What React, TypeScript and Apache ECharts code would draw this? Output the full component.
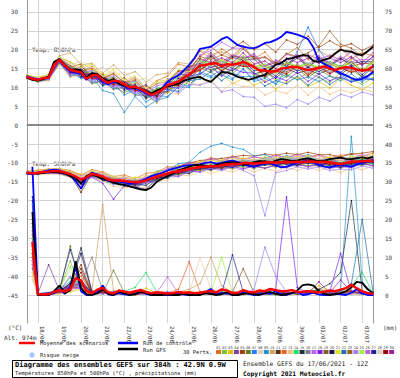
import React, { useEffect, useRef } from 'react';
import * as echarts from 'echarts';

const DATE_LABELS = ['18/06','19/06','20/06','21/06','22/06','23/06','24/06','25/06','26/06','27/06','28/06','29/06','30/06','01/07','02/07','03/07'];
const DAY_HOURS = [12,36,60,84,108,132,156,180,204,228,252,276,300,324,348,372];
const LABEL_HOURS = [17,41,65,89,113,137,161,185,209,233,257,281,305,329,353,377];
const LEFT_TICKS = [-45,-40,-35,-30,-25,-20,-15,-10,-5,0,5,10,15,20,25,30];
const RIGHT_TICKS = [0,5,10,15,20,25,30,35,40,45,50,55,60,65,70,75];
const MEMBER_COLORS = ['#e07020','#80c040','#e0c000','#8040a0','#a04010','#608020','#2080ff','#e0d0b0','#2090d0','#d0a060','#603010','#f06020','#f0c080','#20e060','#203040','#808090','#c060ff','#8020ff','#806020','#201060','#e0e020','#2070b0','#a06020','#a080ff','#a0f040','#c060e0','#2020a0','#e0d0b0','#a00000','#a020a0'];

// 6-hourly, h=0..384
const MEAN_850 = [12.8, 12.3,12.0,12.5,12.6, 16.0,17.3,15.8,14.6, 14.3,14.0,12.3,13.2, 13.3,12.0,11.2,11.8, 11.6,10.8,10.0,10.2, 9.6,8.8,8.0,8.6, 9.4,10.6,11.0,11.6, 12.6,13.4,14.6,15.8, 16.0,16.3,16.5,15.6, 16.2,16.0,16.3,16.8, 16.2,15.4,14.5,14.5, 14.2,14.3,15.0,15.2, 15.5,15.4,15.0,14.6, 14.9,15.2,15.6,15.0, 14.6,15.1,15.4,15.2, 14.8,14.4,14.7,15.6];
const CONTROL_850 = [13.0, 12.5,12.2,12.4,12.8, 16.5,17.0,15.5,14.2, 14.0,13.5,12.0,13.5, 13.0,11.5,10.8,11.5, 11.2,10.3,9.6,10.0, 9.2,8.5,7.8,8.8, 9.8,11.5,12.5,13.2, 14.5,16.0,17.8,20.2, 20.5,20.8,21.8,22.8, 23.4,22.3,21.2,20.8, 20.5,20.4,21.0,21.8, 22.0,22.6,23.4,24.7, 24.4,24.0,23.5,22.8, 20.5,17.0,16.2,15.5, 14.5,13.8,13.2,12.5, 12.0,12.3,13.0,14.1];
const GFS_850 = [12.6, 12.0,11.8,12.2,12.9, 16.8,17.5,16.0,14.8, 14.8,14.5,12.6,13.8, 13.6,12.4,11.6,12.2, 11.0,10.5,10.2,9.8, 9.8,9.0,8.4,9.2, 9.8,10.2,10.6,11.0, 11.8,12.2,12.6,12.8, 12.0,11.5,12.8,14.1, 14.0,13.5,12.8,12.4, 12.0,12.5,13.0,13.3, 14.8,16.0,16.5,17.5, 17.8,18.2,18.6,18.4, 17.0,16.8,17.4,17.8, 19.0,20.0,19.6,19.5, 18.8,18.6,19.6,20.8];
const MEAN_500 = [-12.6, -12.8,-12.6,-12.4,-12.3, -12.1,-12.2,-12.5,-13.0, -13.6,-14.4,-13.8,-12.9, -13.2,-13.6,-14.4,-14.7, -14.6,-14.8,-15.0,-15.1, -15.0,-14.6,-14.1,-13.6, -13.2,-12.8,-12.4,-12.2, -11.9,-11.6,-11.3,-11.0, -11.0,-10.8,-10.9,-10.6, -10.4,-10.3,-10.3,-10.1, -10.0,-10.2,-10.1,-9.9, -9.8,-9.9,-9.8,-9.7, -9.8,-9.7,-9.8,-9.6, -9.7,-9.8,-9.7,-9.9, -10.1,-10.3,-10.0,-9.7, -9.6,-9.6,-9.5,-9.4];
const CONTROL_500 = [-12.8, -13.0,-12.5,-12.3,-12.0, -11.8,-12.0,-12.6,-13.3, -14.8,-16.8,-14.0,-12.6, -13.0,-13.8,-14.8,-15.0, -14.8,-15.2,-15.5,-15.4, -14.8,-14.2,-13.5,-13.0, -12.6,-12.0,-11.6,-11.2, -10.8,-10.6,-10.5,-10.4, -10.0,-9.8,-10.2,-10.0, -9.6,-9.4,-9.8,-10.4, -10.8,-11.0,-10.6,-10.2, -10.0,-10.6,-11.2,-11.0, -10.4,-10.0,-9.6,-9.4, -9.8,-10.5,-11.0,-11.2, -10.8,-10.5,-10.8,-11.0, -10.4,-9.9,-9.6,-9.2];
const GFS_500 = [-12.5, -12.7,-12.8,-12.6,-12.4, -12.3,-12.5,-12.8,-13.5, -14.0,-15.5,-13.5,-13.0, -13.6,-14.2,-14.6,-15.2, -15.6,-15.8,-16.2,-16.6, -17.0,-17.2,-16.5,-15.0, -14.2,-13.5,-12.8,-12.0, -11.5,-11.0,-10.6,-10.5, -10.8,-11.0,-10.6,-10.2, -10.0,-9.8,-10.0,-10.5, -10.2,-9.8,-9.5,-9.6, -9.9,-9.4,-9.0,-9.2, -9.5,-9.3,-9.0,-8.8, -9.2,-9.6,-9.4,-9.0, -8.8,-8.6,-8.9,-9.0, -8.7,-8.5,-8.8,-8.4];
// 6-hourly precipitation (mm), h=6..384
const MEAN_PRECIP = [14,0.3,0.1,0.2, 0.8,1.3,0.9,1.5, 4.5,3.8,1.0,0.5, 1.4,1.9,0.7,0.4, 1.2,0.9,0.6,1.0, 1.3,0.8,0.5,0.7, 0.6,0.4,0.5,0.8, 0.6,0.7,0.5,0.6, 0.9,1.1,0.7,1.5, 1.2,0.5,0.6,1.3, 0.8,0.7,1.2,1.0, 1.6,1.3,1.0,1.1, 1.3,0.8,0.9,1.1, 0.8,0.7,0.9,1.2, 1.0,1.4,1.8,2.7, 1.8,1.0,0.5,0.3];
const CONTROL_PRECIP = [34,0.2,0,0, 0.5,1.5,0.3,2.0, 7.5,1.0,0,0, 0.8,2.5,0.2,0, 0.5,0.2,0,0.4, 1.5,0.3,0,0, 0.2,0,0,0.5, 0.1,0,0,0.3, 0.8,1.6,0.2,0.5, 0.4,0,0,0.8, 0.3,0,0.2,0.5, 0.3,1.0,0.2,0, 0.5,0.8,0,0.2, 0.6,0.1,0,0, 0.4,0.2,0,0.6, 1.5,0.4,0,0];
const GFS_PRECIP = [22,0.1,0,0, 1.0,2.5,0.5,1.2, 9.0,1.8,0.2,0, 0.4,1.5,0.3,0, 1.0,0.4,0,0.2, 0.8,0.5,0,0, 0,0.2,0,0, 0.3,0,0,0, 0.5,0.3,0,0.2, 0.8,0,0,0.3, 0.5,0.2,0,0.4, 0.8,0.3,0,0.2, 0.5,1.2,2.6,2.8, 2.5,1.0,0.3,0, 0.2,0.5,1.0,2.0, 3.5,3.2,1.5,0.5];

// 12-hourly members, h=0..384
const T850_MEMBERS = [
  [13.3,12.5,13.2,17.9,16.8,14.2,15.6,12.4,13.8,11.2,12.6,9.4,11.8,13.0,16.2,15.4,19.6,17.8,20.2,18.4,21.0,17.6,19.4,16.2,18.8,20.6,17.4,19.8,18.0,20.4,17.6,19.2,18.4],
  [12.4,11.6,12.0,16.6,13.0,15.2,11.4,12.8,9.6,11.4,8.0,9.6,6.8,9.4,10.2,12.6,13.4,15.8,13.2,14.8,16.2,13.0,14.6,11.8,13.6,12.2,14.0,12.6,11.4,13.8,12.2,10.8,12.6],
  [12.9,12.3,12.9,16.8,15.6,13.2,14.8,13.6,12.6,9.8,11.6,8.2,9.4,8.6,10.8,11.0,12.6,11.4,13.8,11.0,12.4,10.6,11.8,9.6,11.4,12.8,10.2,11.6,9.8,12.4,10.6,9.4,11.2],
  [12.6,11.8,12.3,17.6,14.0,12.6,13.8,11.0,12.4,10.2,9.4,10.8,8.0,12.2,12.6,15.6,16.4,19.2,16.8,18.6,17.4,19.0,15.6,17.2,16.0,18.4,15.2,17.8,16.6,15.4,17.8,16.0,18.2],
  [13.1,12.1,12.7,17.5,15.4,16.2,12.6,13.4,11.0,12.6,9.8,10.4,8.8,11.0,14.2,15.0,18.0,20.8,18.6,20.4,22.2,20.0,21.6,19.4,22.6,21.4,23.6,20.6,22.4,20.8,21.6,19.8,21.2],
  [12.5,11.5,12.1,16.4,13.4,13.8,11.0,11.8,10.2,8.6,9.8,7.0,8.4,8.6,11.2,11.6,15.2,14.0,15.8,13.6,16.4,13.8,12.6,14.2,12.8,15.0,12.6,14.8,13.0,12.4,14.6,12.8,13.6],
  [12.8,12.2,12.4,17.0,14.8,12.8,13.6,10.4,11.2,8.0,9.4,6.2,7.8,7.6,10.8,10.4,14.2,13.0,14.6,12.4,15.0,12.0,13.2,10.8,15.0,19.5,26.0,20.0,16.0,13.4,11.6,13.0,12.2],
  [13.2,12.4,13.0,18.2,15.8,17.0,14.2,15.4,13.2,14.0,11.8,12.4,10.6,13.8,12.6,15.2,15.8,17.6,15.0,17.2,16.2,16.6,13.8,15.2,14.4,16.4,14.0,16.2,14.6,15.8,14.2,15.0,14.6],
  [12.6,11.7,12.4,16.9,14.2,12.4,12.8,9.2,8.4,3.4,7.6,4.8,6.6,7.4,10.2,10.0,13.8,12.6,13.4,12.0,14.8,11.6,12.4,11.0,13.2,12.0,12.8,11.6,13.0,11.8,13.6,11.4,13.8],
  [13.0,12.6,13.4,18.4,19.2,16.0,16.4,13.8,16.0,13.2,14.2,11.4,13.4,13.8,16.6,16.2,19.8,18.8,19.4,18.0,20.8,17.6,18.2,16.4,19.0,18.0,18.8,17.2,18.6,17.4,19.6,16.8,19.0],
  [12.7,11.9,12.8,17.4,14.0,15.6,13.0,12.8,11.6,11.8,9.6,9.4,7.4,11.6,11.4,15.4,16.2,18.6,16.0,18.4,17.8,18.2,15.6,16.6,16.0,18.4,15.8,18.0,16.0,17.8,15.6,16.4,16.2],
  [12.9,12.0,12.5,17.2,13.8,14.6,12.4,12.6,10.8,11.4,9.4,9.6,7.6,11.0,10.4,13.6,14.4,16.6,14.2,16.4,15.6,15.8,13.2,14.6,14.0,15.8,13.4,15.6,13.8,15.2,14.2,15.0,14.4],
  [12.3,11.5,11.8,16.2,12.6,13.4,11.0,11.4,9.4,10.0,7.8,8.0,5.8,8.8,8.2,11.0,10.8,12.0,9.0,11.2,10.2,10.4,8.0,9.2,8.4,10.6,8.0,10.2,8.2,9.4,8.6,9.6,8.8],
  [13.2,12.4,12.8,17.8,15.6,14.0,14.2,11.6,12.8,10.4,11.6,8.4,9.8,10.4,13.4,13.4,17.2,16.2,17.0,16.0,18.4,15.4,16.2,14.2,16.8,15.6,16.4,15.4,16.8,15.6,16.6,14.4,17.2],
  [12.7,11.8,12.6,16.8,14.6,12.8,13.2,10.6,11.8,9.2,10.2,7.2,8.6,9.0,11.8,12.0,15.8,14.6,15.4,14.4,16.6,13.6,14.4,12.4,15.0,13.8,14.6,13.6,14.8,13.4,15.6,12.8,15.4],
  [12.8,12.3,12.7,17.5,14.2,14.8,12.8,12.6,11.2,11.2,9.6,9.2,7.8,11.0,10.8,14.0,14.8,17.0,14.6,16.8,16.0,16.0,13.6,15.0,14.2,16.2,13.8,15.8,14.0,15.8,14.6,15.2,14.6],
  [13.0,12.4,12.6,17.9,15.4,14.2,14.4,12.2,13.0,10.8,11.8,8.6,10.4,11.2,14.0,14.6,18.6,19.8,22.0,20.4,20.4,17.4,18.0,16.0,18.8,17.8,18.6,17.6,18.4,17.2,19.4,16.6,19.2],
  [12.5,11.9,12.2,16.9,13.6,14.0,12.0,12.2,10.4,10.6,8.8,9.0,7.0,10.2,9.8,13.0,13.6,15.6,13.0,15.0,14.0,13.8,11.4,12.8,11.8,14.0,11.6,13.6,11.8,12.8,11.4,12.6,12.0],
  [12.9,11.9,12.7,17.3,15.2,13.6,13.8,11.4,12.6,10.2,11.0,8.0,9.6,10.0,12.8,12.8,16.8,15.8,16.6,15.6,17.8,14.8,15.8,13.8,16.4,15.2,16.0,15.0,16.2,15.0,16.8,14.2,16.8],
  [12.8,12.1,12.4,17.1,14.0,15.0,12.8,12.8,11.2,11.6,9.6,9.6,7.8,11.4,11.0,14.6,15.6,18.2,15.6,18.0,17.2,17.6,14.8,16.2,15.8,17.8,15.4,17.6,15.6,17.6,16.4,16.8,16.8],
  [13.3,12.7,13.5,18.0,16.8,15.4,16.2,13.0,14.8,12.0,13.0,9.8,11.6,12.0,14.6,14.2,17.8,16.4,17.4,16.2,18.4,15.6,16.2,14.2,16.6,15.6,16.2,15.4,16.4,15.2,17.2,14.6,17.0],
  [12.4,11.6,12.2,16.6,13.0,13.6,11.2,11.6,9.6,10.0,8.0,8.0,6.2,9.4,9.0,11.8,12.2,14.2,11.8,13.8,12.8,13.0,10.4,11.8,11.0,13.0,10.6,12.8,10.8,12.6,11.6,12.0,12.2],
  [13.0,12.2,12.9,17.7,15.8,14.4,15.0,12.4,13.6,11.2,12.0,9.2,11.0,11.6,14.4,14.6,18.2,17.4,18.6,17.6,20.2,17.6,18.0,16.2,19.0,18.2,19.2,21.0,25.0,21.5,20.4,18.2,20.6],
  [12.5,11.8,12.1,16.7,13.2,13.6,11.6,11.4,10.0,10.2,8.4,8.2,6.6,9.4,8.6,10.8,10.6,11.6,8.8,9.4,7.6,7.4,5.0,5.6,4.6,6.8,5.6,7.4,6.4,8.2,7.4,8.8,8.0],
  [12.9,12.2,12.5,17.4,15.0,13.8,13.8,11.4,12.4,10.0,10.8,8.0,9.4,10.2,12.8,13.2,17.0,16.0,16.8,16.0,18.0,15.0,15.8,13.8,16.6,15.4,16.2,15.2,16.6,15.4,16.4,14.2,16.6],
  [12.7,11.8,12.4,17.0,14.0,14.4,12.2,12.4,10.6,11.0,9.0,9.0,7.4,11.2,11.2,15.0,16.2,18.8,16.4,18.6,18.0,18.6,15.8,17.0,16.8,18.8,16.2,18.4,16.4,18.2,16.8,17.4,17.4],
  [12.8,12.2,12.7,17.5,14.8,13.4,13.6,11.0,12.2,9.6,10.6,7.6,9.2,9.6,12.4,12.6,16.4,15.4,16.0,15.2,17.2,14.4,15.0,13.0,15.8,14.4,15.4,14.2,15.6,14.0,16.0,13.4,15.8],
  [13.1,12.5,13.2,17.9,16.4,15.2,15.8,12.8,14.2,11.8,12.8,9.8,11.2,11.6,13.8,13.6,16.6,15.6,16.6,15.4,17.4,14.8,15.4,13.6,16.0,15.0,15.8,14.6,16.0,14.8,16.4,14.0,16.4],
  [12.9,11.9,12.5,17.1,14.0,14.4,12.4,12.4,10.8,11.2,9.2,9.2,7.6,10.6,10.6,13.8,14.6,16.6,14.4,16.4,15.6,15.6,13.0,14.4,13.6,15.6,13.2,15.4,13.6,15.2,14.0,14.8,14.2],
  [12.7,12.1,12.7,17.2,14.8,13.6,13.8,11.2,12.2,9.8,10.8,8.0,9.2,10.6,13.4,13.4,17.6,16.6,17.8,16.6,19.2,16.2,17.0,15.0,17.8,16.6,17.8,16.4,17.8,16.6,18.2,15.8,18.2],
];

const T500_MEMBERS = [
  [-12.2,-11.9,-11.6,-11.5,-12.0,-13.2,-11.8,-12.4,-13.6,-13.2,-14.2,-12.8,-12.4,-11.0,-11.2,-9.8,-10.0,-8.6,-9.4,-8.2,-9.0,-8.4,-8.8,-7.8,-8.6,-7.6,-8.4,-7.8,-8.6,-8.0,-7.6,-8.2,-7.4],
  [-12.9,-13.0,-12.8,-12.9,-13.8,-15.0,-13.6,-14.8,-15.6,-16.2,-16.0,-15.8,-14.4,-14.0,-12.8,-12.8,-11.6,-12.0,-11.0,-11.6,-10.6,-11.4,-10.4,-11.2,-10.2,-11.0,-10.0,-10.8,-10.6,-11.4,-10.2,-10.8,-10.0],
  [-12.4,-12.3,-11.8,-11.7,-12.4,-13.0,-12.6,-12.6,-14.2,-13.6,-14.8,-13.4,-13.4,-11.8,-11.8,-10.2,-10.4,-9.2,-9.8,-8.6,-9.6,-9.0,-9.6,-8.4,-9.0,-8.2,-8.8,-8.0,-9.4,-8.8,-9.2,-8.2,-8.6],
  [-12.8,-12.8,-12.5,-12.6,-13.4,-15.4,-13.0,-14.4,-14.8,-15.8,-15.4,-15.4,-13.6,-13.4,-12.4,-12.4,-11.2,-11.6,-10.8,-11.2,-10.4,-10.8,-10.0,-10.8,-9.8,-10.6,-9.6,-10.6,-10.0,-11.0,-10.0,-10.4,-9.6],
  [-12.6,-12.4,-12.0,-11.8,-12.6,-13.6,-12.4,-12.8,-14.0,-14.0,-14.6,-13.8,-12.6,-11.6,-10.8,-10.0,-9.4,-9.0,-8.8,-8.4,-8.0,-8.2,-7.6,-8.0,-7.4,-7.8,-7.2,-7.8,-7.8,-8.4,-7.6,-7.4,-7.0],
  [-12.7,-12.9,-12.7,-12.6,-13.4,-15.0,-13.6,-14.4,-15.4,-15.0,-16.2,-15.0,-14.6,-13.0,-13.2,-11.8,-12.0,-11.0,-11.6,-10.6,-11.2,-10.8,-11.4,-10.6,-11.0,-10.4,-10.8,-10.4,-11.2,-10.8,-11.0,-10.2,-10.6],
  [-12.4,-12.2,-12.2,-11.8,-12.6,-14.6,-12.4,-13.8,-14.2,-15.0,-14.6,-14.8,-13.0,-13.0,-11.6,-11.8,-10.4,-10.8,-9.8,-10.2,-9.2,-9.6,-8.6,-9.2,-8.0,-8.8,-7.8,-9.2,-8.8,-10.0,-8.6,-9.2,-8.2],
  [-12.3,-12.2,-11.9,-11.6,-12.4,-13.4,-12.2,-12.8,-13.6,-14.4,-14.0,-14.2,-12.4,-12.4,-11.2,-11.4,-10.2,-10.8,-9.8,-10.0,-9.2,-10.0,-9.0,-9.8,-8.8,-9.6,-8.6,-9.6,-9.0,-10.0,-8.8,-9.4,-8.4],
  [-12.8,-12.9,-12.3,-12.4,-13.4,-15.2,-12.6,-14.4,-15.2,-16.2,-15.0,-14.6,-12.2,-12.0,-10.2,-9.8,-7.2,-5.6,-4.8,-5.8,-6.4,-8.2,-7.8,-9.0,-8.4,-9.4,-8.4,-9.6,-9.0,-10.2,-8.8,-9.4,-8.4],
  [-12.4,-12.6,-12.0,-12.2,-12.6,-14.6,-12.4,-13.6,-13.8,-14.8,-14.4,-14.8,-13.2,-13.4,-12.2,-12.6,-11.4,-12.0,-11.0,-11.6,-10.6,-11.6,-10.4,-11.2,-10.0,-11.0,-10.0,-11.2,-10.2,-11.4,-10.0,-10.6,-9.6],
  [-12.7,-12.5,-12.5,-12.0,-13.2,-17.8,-12.8,-14.2,-14.6,-15.4,-15.0,-15.2,-13.4,-13.4,-12.0,-12.0,-10.6,-11.0,-10.0,-10.4,-9.4,-10.4,-9.2,-10.0,-9.0,-9.8,-8.8,-10.0,-9.2,-10.4,-9.0,-9.6,-8.6],
  [-12.5,-12.8,-12.4,-12.6,-12.8,-15.0,-12.8,-14.0,-14.4,-15.2,-14.8,-15.2,-13.4,-13.4,-12.0,-12.2,-10.8,-11.4,-10.4,-10.8,-9.8,-10.8,-9.6,-10.6,-9.4,-10.4,-9.2,-10.4,-9.6,-10.8,-9.4,-10.2,-9.2],
  [-12.8,-13.0,-12.9,-13.0,-13.8,-15.8,-13.8,-14.8,-16.2,-16.6,-16.2,-16.6,-14.8,-14.6,-13.2,-13.4,-12.0,-12.8,-11.8,-12.4,-11.4,-12.4,-11.4,-12.2,-11.2,-12.0,-11.0,-12.0,-11.4,-12.6,-11.2,-11.8,-10.8],
  [-12.4,-12.3,-11.9,-11.7,-12.4,-14.4,-12.2,-13.8,-14.0,-14.8,-14.4,-14.6,-12.8,-12.8,-11.4,-11.6,-10.2,-10.6,-9.6,-10.0,-9.2,-10.0,-8.8,-9.8,-8.6,-9.6,-8.4,-9.6,-8.8,-10.0,-8.6,-9.2,-8.2],
  [-12.7,-12.5,-12.6,-12.0,-13.4,-14.2,-13.4,-13.6,-15.4,-14.8,-16.0,-14.6,-14.4,-12.8,-13.0,-11.6,-11.8,-10.8,-11.4,-10.2,-10.8,-10.2,-10.6,-9.8,-10.4,-9.6,-10.2,-9.6,-10.6,-10.2,-10.4,-9.6,-10.0],
  [-12.5,-12.6,-12.1,-12.2,-12.7,-14.6,-12.6,-13.8,-14.2,-15.0,-14.6,-15.0,-13.2,-13.2,-11.8,-12.0,-10.6,-11.2,-10.2,-10.6,-9.6,-10.6,-9.4,-10.2,-9.2,-10.0,-9.0,-10.2,-9.4,-10.6,-9.2,-9.8,-9.0],
  [-12.4,-12.2,-11.8,-11.9,-12.4,-13.4,-12.6,-12.8,-14.4,-13.8,-14.8,-13.6,-13.2,-11.4,-11.4,-10.0,-10.2,-8.8,-9.6,-8.4,-9.2,-8.4,-9.0,-8.0,-8.8,-7.8,-8.6,-8.0,-9.0,-8.6,-8.8,-7.8,-8.4],
  [-12.8,-12.9,-12.7,-12.8,-13.6,-14.8,-13.8,-15.4,-19.6,-16.0,-16.6,-15.0,-15.0,-13.2,-13.6,-12.0,-12.4,-11.2,-11.8,-10.8,-11.6,-10.8,-11.4,-10.6,-11.2,-10.4,-11.0,-10.4,-11.4,-11.0,-11.2,-10.2,-10.8],
  [-12.6,-12.7,-12.2,-12.4,-12.8,-14.8,-12.6,-13.8,-14.4,-15.2,-14.8,-15.0,-13.2,-13.4,-12.0,-12.2,-10.6,-11.4,-10.2,-10.8,-9.8,-10.8,-9.6,-10.4,-9.4,-10.2,-9.2,-10.2,-9.6,-10.8,-9.4,-10.0,-9.2],
  [-12.6,-12.8,-12.5,-12.2,-13.4,-15.6,-13.0,-14.4,-15.0,-15.8,-16.4,-17.0,-14.2,-13.6,-12.0,-12.2,-10.8,-11.4,-10.4,-11.0,-10.0,-11.0,-9.8,-10.8,-9.6,-10.6,-9.4,-10.6,-9.8,-11.0,-9.6,-10.2,-9.4],
  [-12.3,-12.1,-11.7,-11.7,-12.2,-13.8,-12.0,-13.0,-13.6,-14.2,-13.8,-14.0,-12.2,-12.2,-10.8,-11.0,-9.6,-10.2,-9.2,-9.6,-8.6,-9.6,-8.4,-9.2,-8.2,-9.0,-8.0,-9.2,-8.4,-9.6,-8.2,-8.8,-7.8],
  [-12.7,-12.6,-12.6,-12.2,-13.4,-14.4,-13.6,-13.6,-15.4,-15.0,-16.0,-14.8,-14.4,-12.6,-12.8,-11.4,-11.6,-10.6,-11.2,-10.2,-10.8,-10.2,-10.6,-9.8,-10.4,-9.8,-10.2,-9.8,-10.8,-10.6,-10.6,-9.6,-10.2],
  [-12.4,-12.5,-12.0,-12.2,-12.6,-14.4,-12.4,-13.8,-14.0,-15.0,-14.6,-14.8,-13.0,-13.0,-11.6,-11.8,-10.4,-11.0,-10.0,-10.4,-9.4,-10.4,-9.2,-10.2,-9.0,-10.0,-8.8,-10.0,-9.2,-10.4,-9.0,-9.6,-8.8],
  [-12.8,-12.7,-12.7,-12.4,-13.6,-14.8,-13.8,-14.0,-15.8,-15.2,-16.4,-15.2,-15.0,-13.4,-13.6,-12.2,-12.4,-11.4,-12.0,-11.0,-12.0,-13.4,-24.0,-12.6,-12.0,-11.0,-11.6,-11.0,-12.0,-11.6,-11.8,-10.8,-11.4],
  [-12.4,-12.5,-12.1,-12.1,-12.6,-14.6,-12.6,-13.8,-14.2,-15.0,-14.6,-14.8,-13.0,-13.0,-11.6,-11.8,-10.4,-11.0,-10.0,-10.6,-9.6,-10.4,-9.2,-10.2,-9.0,-10.0,-8.8,-10.0,-9.4,-10.6,-9.2,-9.8,-9.0],
  [-12.6,-12.4,-12.3,-11.8,-13.0,-14.0,-12.8,-13.0,-14.6,-14.0,-15.2,-13.8,-13.6,-12.0,-12.0,-10.6,-10.8,-9.8,-10.4,-9.2,-9.8,-9.2,-9.6,-8.8,-9.4,-8.6,-9.2,-8.8,-9.6,-9.2,-9.4,-8.4,-9.0],
  [-12.7,-12.9,-12.5,-12.6,-13.0,-16.8,-13.0,-14.6,-14.8,-16.0,-15.4,-16.0,-13.8,-14.0,-12.4,-12.8,-11.2,-11.8,-10.8,-11.2,-10.2,-11.2,-10.0,-10.8,-9.8,-10.6,-9.6,-10.8,-10.0,-11.2,-9.8,-10.4,-9.4],
  [-12.4,-12.3,-11.9,-12.0,-12.5,-13.6,-12.4,-12.8,-14.0,-13.8,-14.6,-13.6,-12.8,-11.8,-11.4,-10.6,-10.2,-9.8,-9.8,-9.2,-9.2,-9.2,-9.0,-8.8,-8.6,-8.6,-8.4,-8.8,-8.8,-9.2,-8.6,-8.4,-8.2],
  [-12.7,-12.6,-12.5,-12.4,-13.2,-14.2,-13.4,-13.6,-15.2,-14.6,-15.8,-14.4,-14.2,-12.6,-12.8,-11.4,-11.6,-10.6,-11.2,-10.0,-10.6,-10.0,-10.4,-9.6,-10.2,-9.4,-10.0,-9.4,-10.4,-10.0,-10.2,-9.2,-9.8],
  [-12.5,-12.7,-12.2,-12.3,-12.8,-14.8,-12.8,-13.8,-14.4,-15.2,-14.8,-15.0,-13.2,-13.2,-11.8,-12.0,-10.6,-11.2,-10.2,-10.8,-9.8,-10.6,-9.4,-10.4,-9.2,-10.2,-9.0,-10.2,-9.6,-10.8,-9.4,-10.0,-9.2],
];

// precipitation members (mm): h=6, then 12-hourly h=12..384
const PRECIP_MEMBERS = [
  [15,0,0.2,1.0,2.0,5.0,0.5,0.8,0.3,0.5,0,0.4,0.2,0,0.5,0.2,0,0.6,0.3,0,0.8,0.4,0.5,0.2,0,0.6,0.3,1.0,0.5,0.8,1.2,0.4,0],
  [12,0.2,0.5,1.5,9.0,1.2,0.3,0.6,0.5,0.2,0.4,1.0,0.3,0.2,0,0.5,0.3,1.5,0.6,0.2,0.5,0.8,0.3,0,0.4,0.2,0.5,0.8,0.3,1.5,0.6,0.3,0.1],
  [8,0,0,0.8,1.5,3.0,0.2,1.2,0.8,0.3,0.8,1.8,0.5,0.3,0.6,1.0,0.2,0.5,1.2,0.4,0.3,0.6,1.2,0.8,0.3,0.5,1.0,2.5,0.6,0.4,0.8,0.2,0],
  [20,0.3,8.0,1.2,2.5,1.5,0.4,0.3,0.6,1.0,0.3,0.5,0.2,0.4,0.3,0.6,0.5,0.2,0.3,0.8,0.4,0.2,0.6,0.3,0.5,0.8,0.4,0.6,1.2,0.5,0.3,0.6,0.2],
  [10,0,0.2,0.5,3.0,8.0,0.6,1.5,0.4,0.2,0.5,0.3,0.6,0.2,0.4,0.8,0.3,0.5,0.4,0.2,1.0,0.6,0.3,0.8,0.5,0.3,0.6,1.5,0.8,0.4,0.3,1.0,0.4],
  [14,0.2,0.4,1.0,13.0,2.0,0.8,0.5,6.5,0.6,0.2,0.8,0.3,0.5,0.2,0.4,0.6,0.3,0.5,0.3,0.2,0.4,0.8,0.3,0.6,0.2,0.4,0.5,0.3,0.8,0.5,0.2,0.3],
  [24,0,0.3,0.6,1.5,4.0,0.3,0.5,0.2,0.4,0.6,0.2,0.4,0.8,0.3,0.2,0.5,0.8,0.6,0.3,0.4,0.2,0.5,0.4,0.2,0.5,0.8,0.3,1.0,0.6,0.4,0.5,0.2],
  [6,0,0,0.4,1.2,2.5,0.2,0.8,0.5,0.2,0.3,0.6,0.2,0.3,0.5,0.3,1.0,0.6,0.3,0.2,0.5,0.3,0.4,0.6,0.3,0.2,0.5,0.4,0.6,0.3,0.2,0.4,0.1],
  [18,0.3,0.5,1.5,3.5,2.2,0.5,0.4,0.8,0.5,0.2,0.4,0.6,0.3,0.2,0.5,0.3,0.4,0.8,0.5,0.3,0.6,0.4,0.2,0.5,0.3,0.6,0.8,0.5,1.2,42.0,3.5,0.5],
  [11,0,0.2,0.8,2.0,3.5,1.0,24.0,1.2,0.5,0.8,0.3,0.5,0.2,0.8,1.5,3.0,10.0,2.5,0.6,0.4,0.8,0.5,0.3,0.6,0.4,0.8,0.5,0.3,0.6,1.0,0.4,0.2],
  [13,0.2,0.3,1.2,2.5,7.0,0.4,1.0,0.3,0.6,0.3,0.5,0.8,0.4,0.3,0.6,0.2,0.5,0.4,0.3,0.6,0.5,0.3,0.4,0.8,0.3,0.5,0.6,0.4,0.5,0.8,0.3,0.2],
  [9,0,0.5,0.5,1.8,2.0,0.3,0.6,0.4,0.2,0.5,0.8,0.4,0.6,1.5,8.8,0.8,0.3,0.5,0.4,0.3,0.6,0.5,0.3,0.4,0.6,0.3,0.5,0.8,0.4,0.6,0.3,0.2],
  [5,0,0.2,0.4,1.0,1.5,0.6,2.5,0.3,0.4,0.6,0.3,0.5,0.2,0.4,0.3,0.5,1.2,0.6,0.3,0.5,0.4,0.2,0.5,0.3,0.4,0.6,0.3,0.5,0.8,0.4,0.3,0.1],
  [15,0.2,0.4,1.5,4.5,3.0,0.5,0.8,0.6,1.0,2.0,6.0,0.8,0.3,0.5,0.4,0.3,0.6,0.8,0.4,0.3,0.5,0.6,0.4,0.3,0.5,0.8,1.2,0.6,1.0,2.5,6.0,0.5],
  [19,0.3,0.3,1.0,3.0,12.5,1.0,0.6,0.4,0.5,0.3,0.6,0.4,0.3,0.2,0.5,0.4,0.3,0.6,0.5,0.4,0.3,0.5,0.4,0.6,0.3,0.8,1.5,3.0,6.0,25.0,1.0,0.3],
  [12,0,0.2,0.8,2.2,2.8,10.0,1.2,0.5,0.3,0.6,0.4,0.3,0.5,0.3,0.6,0.4,0.5,0.3,0.8,0.5,0.4,0.3,0.6,0.4,0.5,0.3,0.6,0.4,0.5,0.8,0.4,0.2],
  [9,0.2,0.6,1.0,5.0,2.0,0.4,0.3,0.6,0.8,0.4,0.3,0.6,0.4,0.8,0.3,0.5,0.4,0.6,0.3,0.5,0.8,0.4,0.3,0.5,0.6,0.4,0.8,0.5,0.3,0.6,0.4,0.2],
  [17,0.3,0.4,1.2,2.0,1.8,0.6,0.5,0.8,0.4,0.3,0.5,0.3,0.6,0.4,0.3,0.6,0.5,0.4,0.6,0.3,0.5,0.8,1.5,26.0,2.0,0.5,0.6,0.8,11.0,0.6,0.3,0.2],
  [7,0,0.2,0.6,1.5,3.5,0.5,0.8,0.4,0.3,0.5,0.4,0.6,0.3,0.5,0.4,0.3,0.6,0.5,0.8,7.0,0.6,0.4,0.3,0.5,0.4,0.6,0.3,0.8,0.5,0.4,0.3,0.2],
  [26,0.4,0.5,1.2,3.0,11.0,0.8,0.6,0.5,0.4,0.6,0.5,0.3,0.4,0.6,0.5,0.4,0.3,0.6,0.4,0.5,0.3,0.6,0.5,0.4,0.6,0.5,0.3,0.4,0.6,0.5,0.4,0.2],
  [6,0,0,0.3,0.8,1.5,0.3,0.5,0.4,0.2,0.3,0.5,0.4,0.3,0.2,0.4,0.3,0.5,0.4,0.3,0.2,0.4,0.5,0.3,0.4,0.3,0.5,0.4,0.6,0.3,0.4,0.2,0.1],
  [20,0.2,0.3,0.8,2.5,4.0,0.5,0.6,0.4,0.5,0.3,0.4,0.6,0.5,0.3,0.4,0.6,0.5,0.3,0.4,0.6,0.5,0.3,0.4,0.5,0.3,0.6,0.8,0.5,1.0,3.0,20.0,0.8],
  [10,0,0.3,0.6,1.8,2.5,0.6,1.0,0.5,0.3,0.4,0.6,0.3,0.5,0.4,0.3,0.5,0.4,0.6,0.3,0.5,0.4,0.3,0.6,0.5,0.4,0.6,0.5,0.3,0.6,0.8,0.4,0.2],
  [14,0.2,0.4,1.0,2.0,2.5,0.4,0.6,0.5,0.3,0.5,0.4,0.6,0.3,0.5,0.4,0.3,0.6,0.5,0.4,0.6,1.5,12.7,5.0,0.8,0.5,0.4,0.6,0.5,0.8,0.4,0.3,0.2],
  [12,0.2,0.3,1.2,7.5,2.0,0.5,0.4,0.6,0.3,0.5,0.4,0.3,0.5,0.4,0.6,0.5,0.4,10.0,0.6,0.4,0.5,0.3,0.4,0.6,0.5,0.3,0.6,0.4,0.5,0.8,0.4,0.2],
  [8,0,0.2,0.5,1.5,2.0,0.4,0.6,0.3,0.5,0.4,0.3,0.6,4.8,0.5,0.4,0.6,0.3,0.5,0.4,0.6,0.5,0.4,0.3,0.6,0.5,0.4,0.6,0.5,0.3,0.6,0.4,0.2],
  [25,0.4,0.6,1.5,12.0,3.0,0.8,0.5,0.6,0.4,0.3,0.5,0.4,0.6,0.3,0.5,0.4,0.6,0.5,10.6,0.8,0.4,0.5,0.3,0.6,0.4,0.5,0.3,0.6,0.4,0.5,0.3,0.2],
  [4,0,0,0.3,1.0,1.8,0.3,0.5,0.4,0.3,0.5,0.4,0.3,0.5,0.4,0.6,10.0,1.5,0.5,0.4,0.3,0.5,0.4,0.6,0.3,0.5,0.4,0.3,0.5,0.6,0.4,0.3,0.1],
  [11,0,0.3,0.8,2.0,6.0,0.5,0.8,0.4,0.5,0.3,0.6,0.4,0.3,0.5,0.4,0.6,0.3,0.5,0.4,0.3,0.6,0.5,0.4,0.3,0.6,0.5,0.8,0.4,0.5,1.0,0.5,0.2],
  [16,0.3,0.4,1.0,2.5,3.0,0.6,0.5,0.4,0.6,0.3,0.5,0.4,0.6,0.3,0.5,0.4,0.6,0.3,0.5,0.4,0.6,0.5,0.4,0.6,0.5,0.4,3.5,0.6,4.0,0.8,0.4,0.2],
];

const FONT = '"DejaVu Sans Mono", monospace';
const H6 = Array.from({ length: 65 }, (_, i) => i * 6);
const H12 = Array.from({ length: 33 }, (_, i) => i * 12);
const HP6 = H6.slice(1);
const HP12 = [6, ...H12.slice(1)];
const pairs = (hours: number[], vals: number[]) => vals.map((v, i) => [hours[i], v]);

function buildOption() {
  const series: any[] = [];
  const memberLine = (name: string, color: string, data: any[], yAxisIndex: number) => ({
    name, type: 'line', data, yAxisIndex, silent: true,
    showSymbol: true, symbol: 'circle', symbolSize: 1.6,
    itemStyle: { color }, lineStyle: { color, width: 0.7 },
    z: 2,
  });
  PRECIP_MEMBERS.forEach((m, i) => series.push(memberLine('p' + (i + 1), MEMBER_COLORS[i], pairs(HP12, m), 1)));
  T500_MEMBERS.forEach((m, i) => series.push(memberLine('t5' + (i + 1), MEMBER_COLORS[i], pairs(H12, m), 0)));
  T850_MEMBERS.forEach((m, i) => series.push(memberLine('t8' + (i + 1), MEMBER_COLORS[i], pairs(H12, m), 0)));
  const thick = (name: string, color: string, data: any[], yAxisIndex: number, width: number, z: number, extra: any = {}) => ({
    name, type: 'line', data, yAxisIndex, silent: true, showSymbol: false,
    lineStyle: { color, width }, itemStyle: { color }, z, ...extra,
  });
  series.push(thick('ctlP', '#0000ff', pairs(HP6, CONTROL_PRECIP), 1, 1.8, 3));
  series.push(thick('gfsP', '#000000', pairs(HP6, GFS_PRECIP), 1, 1.8, 3));
  series.push(thick('ctl5', '#0000ff', pairs(H6, CONTROL_500), 0, 1.8, 3));
  series.push(thick('gfs5', '#000000', pairs(H6, GFS_500), 0, 1.8, 3));
  series.push(thick('ctl8', '#0000ff', pairs(H6, CONTROL_850), 0, 1.8, 3));
  series.push(thick('gfs8', '#000000', pairs(H6, GFS_850), 0, 1.8, 3));
  series.push(thick('meanP', '#ff0000', pairs(HP6, MEAN_PRECIP), 1, 2.4, 4));
  series.push(thick('mean5', '#ff0000', pairs(H6, MEAN_500), 0, 2.4, 4));
  series.push(thick('mean8', '#ff0000', pairs(H6, MEAN_850), 0, 2.4, 4, {
    markLine: {
      silent: true, symbol: 'none', label: { show: false },
      lineStyle: { color: '#888888', width: 2, type: 'solid' },
      data: [{ yAxis: 0 }],
      z: 1,
    },
  }));

  const txt = (text: string, x: number, y: number, size: number, extra: any = {}) => ({
    type: 'text', x, y, silent: true,
    style: { text, fill: '#222', fontSize: size, fontFamily: FONT, align: 'left', verticalAlign: 'middle', ...extra },
  });
  const graphics: any[] = [
    txt('Temp. 850hPa', 32, 49, 6, { fill: '#333' }),
    txt('Temp. 500hPa', 32, 163, 6, { fill: '#333' }),
    txt('(°C)', 8, 327, 6, { fill: '#333' }),
    txt('Alt. 974m', 4, 337, 6, { fill: '#333' }),
    txt('(mm)', 383, 327, 6, { fill: '#333' }),
    { type: 'line', shape: { x1: 19, y1: 343, x2: 35, y2: 343 }, style: { stroke: '#ff0000', lineWidth: 2.5 } },
    txt('Moyenne des scénarios', 40, 343, 5.4),
    { type: 'line', shape: { x1: 118, y1: 343, x2: 138, y2: 343 }, style: { stroke: '#0000ff', lineWidth: 2.5 } },
    txt('Run de contrôle', 143, 343, 5.4),
    { type: 'line', shape: { x1: 118, y1: 349, x2: 138, y2: 349 }, style: { stroke: '#000000', lineWidth: 2.5 } },
    txt('Run GFS', 143, 350, 5.4),
    { type: 'circle', shape: { cx: 32, cy: 355, r: 2.6 }, style: { fill: '#9cc6ff' } },
    txt('Risque neige', 40, 355, 5.4),
    txt('30 Perts.', 183, 352, 5.4),
    { type: 'rect', shape: { x: 12.5, y: 360.5, width: 225, height: 17 }, style: { fill: 'none', stroke: '#000', lineWidth: 1 } },
    txt('Diagramme des ensembles GEFS sur 384h : 42.9N 0.9W', 15, 365, 7, { fontWeight: 'bold', fill: '#000' }),
    txt('Températures 850hPa et 500hPa (°C) , précipitations (mm)', 15, 373, 5.4),
    txt('Ensemble GEFS du 17/06/2021 - 12Z', 243, 363, 6.3),
    txt('Copyright 2021 Meteociel.fr', 243, 373, 6.3, { fontWeight: 'bold', fill: '#000' }),
  ];
  MEMBER_COLORS.forEach((c, i) => {
    const x = 216 + i * 5.97;
    graphics.push({ type: 'rect', shape: { x, y: 350, width: 5, height: 4 }, style: { fill: c } });
    graphics.push({
      type: 'text', x: x + 2.5, y: 347.5, silent: true,
      style: { text: String(i + 1).padStart(2, '0'), fill: '#333', fontSize: 3.6, fontFamily: FONT, align: 'center', verticalAlign: 'middle' },
    });
  });

  return {
    animation: false,
    backgroundColor: '#ffffff',
    grid: { left: 27, top: 0, width: 346, height: 323, containLabel: false },
    xAxis: {
      type: 'value', min: 0, max: 384,
      axisLine: { show: true, lineStyle: { color: '#999', width: 1 } },
      axisTick: { show: false, customValues: DAY_HOURS },
      splitLine: { show: true, lineStyle: { color: '#d4d4d4', width: 1 } },
      axisLabel: {
        customValues: LABEL_HOURS, rotate: -90, margin: 3, fontSize: 5.6, fontFamily: FONT, color: '#333',
        formatter: (v: number) => DATE_LABELS[Math.round((v - 17) / 24)] ?? '',
      },
    },
    yAxis: [
      {
        type: 'value', min: -52.42, max: 33.18, position: 'left',
        axisLine: { show: true, lineStyle: { color: '#999', width: 1 } },
        axisTick: { show: false, customValues: LEFT_TICKS },
        splitLine: { show: true, lineStyle: { color: '#d4d4d4', width: 1 } },
        axisLabel: { customValues: LEFT_TICKS, margin: 9, fontSize: 6, fontFamily: FONT, color: '#444' },
      },
      {
        type: 'value', min: -7.42, max: 78.18, position: 'right',
        axisLine: { show: true, lineStyle: { color: '#999', width: 1 } },
        axisTick: { show: false, customValues: RIGHT_TICKS },
        splitLine: { show: false },
        axisLabel: { customValues: RIGHT_TICKS, margin: 12, fontSize: 6, fontFamily: FONT, color: '#444', align: 'left' },
      },
    ],
    series,
    graphic: graphics,
  };
}

export default function App() {
  const ref = useRef<HTMLDivElement>(null);
  useEffect(() => {
    document.body.style.margin = '0';
    const chart = echarts.init(ref.current as HTMLDivElement, null, { renderer: 'svg' });
    chart.setOption(buildOption() as any);
    return () => chart.dispose();
  }, []);
  return <div ref={ref} style={{ width: 400, height: 378 }} />;
}
